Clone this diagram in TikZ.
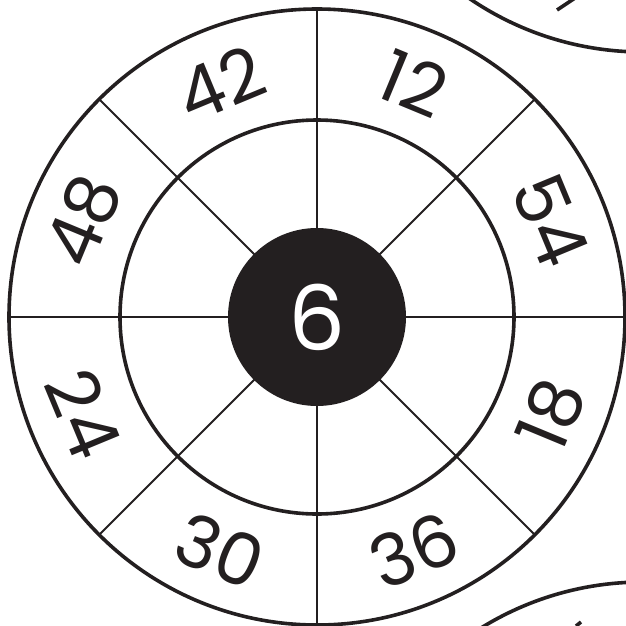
\documentclass[tikz,border=0pt]{standalone}
\usepackage{fontspec}
\setmainfont{Poppins}
\definecolor{ink}{HTML}{231F20}
\tikzset{
  ringline/.style={draw=ink, line width=3.6pt},
  spokeline/.style={draw=ink, line width=1.9pt},
  numlabel/.style={inner sep=0pt, text=ink, font=\fontsize{72}{72}\selectfont},
  centerlabel/.style={inner sep=0pt, text=white, font=\fontsize{90}{90}\selectfont}
}
\begin{document}
\begin{tikzpicture}[x=1pt,y=1pt]
\useasboundingbox (-317,-308) rectangle (309,317);
\clip (-317,-308) rectangle (309,317);
% neighbouring wheels, cut off by the edge
\draw[ringline] (326,573) circle (308);
\draw[ringline] (326,-573) circle (308);
\draw[ink, line width=3.6pt] (240,307) -- (258,319);
\draw[ink, line width=3.6pt] (259,-309) -- (264,-305);
% spokes
\foreach \a in {0,45,...,315} \draw[spokeline] (\a:88) -- (\a:308);
% rings
\draw[ringline] (0,0) circle (308);
\draw[ringline] (0,0) circle (197);
\fill[ink] (0,0) circle (89);
\node[centerlabel] (c6) at (0,0) {6};
% numbers in the outer ring
\foreach \a/\t in {67.5/12, 22.5/54, 157.5/48, 112.5/42}
  \node[numlabel, rotate=\a-90] (n\t) at (\a:253) {\t};
\foreach \a/\t in {-22.5/18, -67.5/36, -112.5/30, -157.5/24}
  \node[numlabel, rotate=\a+90] (n\t) at (\a:253) {\t};
\end{tikzpicture}
\end{document}
